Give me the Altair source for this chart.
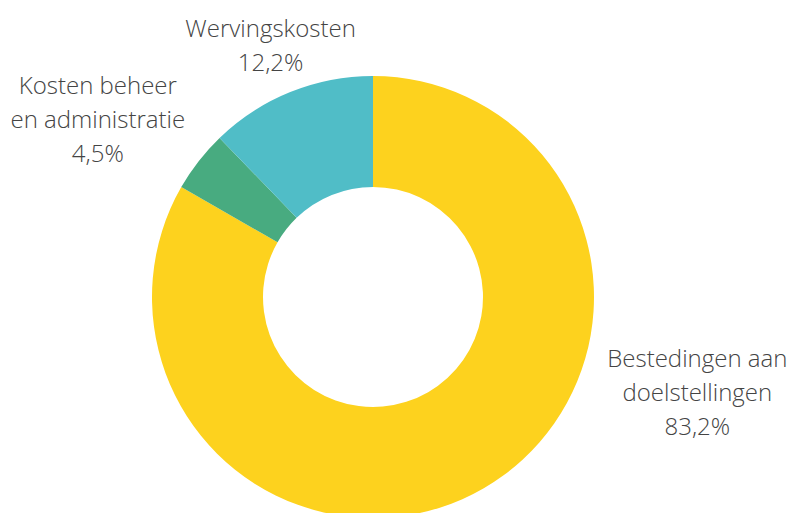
import altair as alt
import pandas as pd

categories = ["Bestedingen aan doelstellingen", "Kosten beheer en administratie", "Wervingskosten"]
values = [83.2, 4.5, 12.2]
labels = ["Bestedingen aan\ndoelstellingen\n83,2%", "Kosten beheer\nen administratie\n4,5%", "Wervingskosten\n12,2%"]
colors = ["#FDD21E", "#48AB80", "#50BDC7"]

df = pd.DataFrame({"cat": categories, "value": values, "label": labels, "order": [0, 1, 2]})

CX, CY = 373, 297

arc = alt.Chart(df).mark_arc(outerRadius=221, innerRadius=110, stroke=None).encode(
    theta=alt.Theta("value:Q", stack=True),
    order=alt.Order("order:Q"),
    x=alt.value(CX),
    y=alt.value(CY),
    color=alt.Color("cat:N", scale=alt.Scale(domain=categories, range=colors), legend=None),
)

lab_base = alt.Chart(df).transform_window(
    cum="sum(value)", sort=[alt.SortField("order")]
).transform_calculate(mid="datum.cum - datum.value / 2")

def label_layer(name, radius, dx, dy):
    return lab_base.transform_filter(alt.datum.cat == name).mark_text(
        radius=radius, dx=dx, dy=dy, align="center", baseline="middle",
        lineBreak="\n", lineHeight=34, font="Open Sans", fontWeight=300,
        fontSize=24, color="#444444"
    ).encode(
        theta=alt.Theta("mid:Q", stack=None),
        x=alt.value(CX),
        y=alt.value(CY),
        text="label:N",
    )

t1 = label_layer(categories[0], 240, 204, -145)
t2 = label_layer(categories[1], 340, -7, -1)
t3 = label_layer(categories[2], 287, 5, -1)

chart = alt.layer(arc, t1, t2, t3).properties(
    width=792, height=513, padding=0, autosize=alt.AutoSizeParams(type="none")
).configure_view(stroke=None)

chart.save("out.html", embed_options={"renderer": "svg", "actions": False})
